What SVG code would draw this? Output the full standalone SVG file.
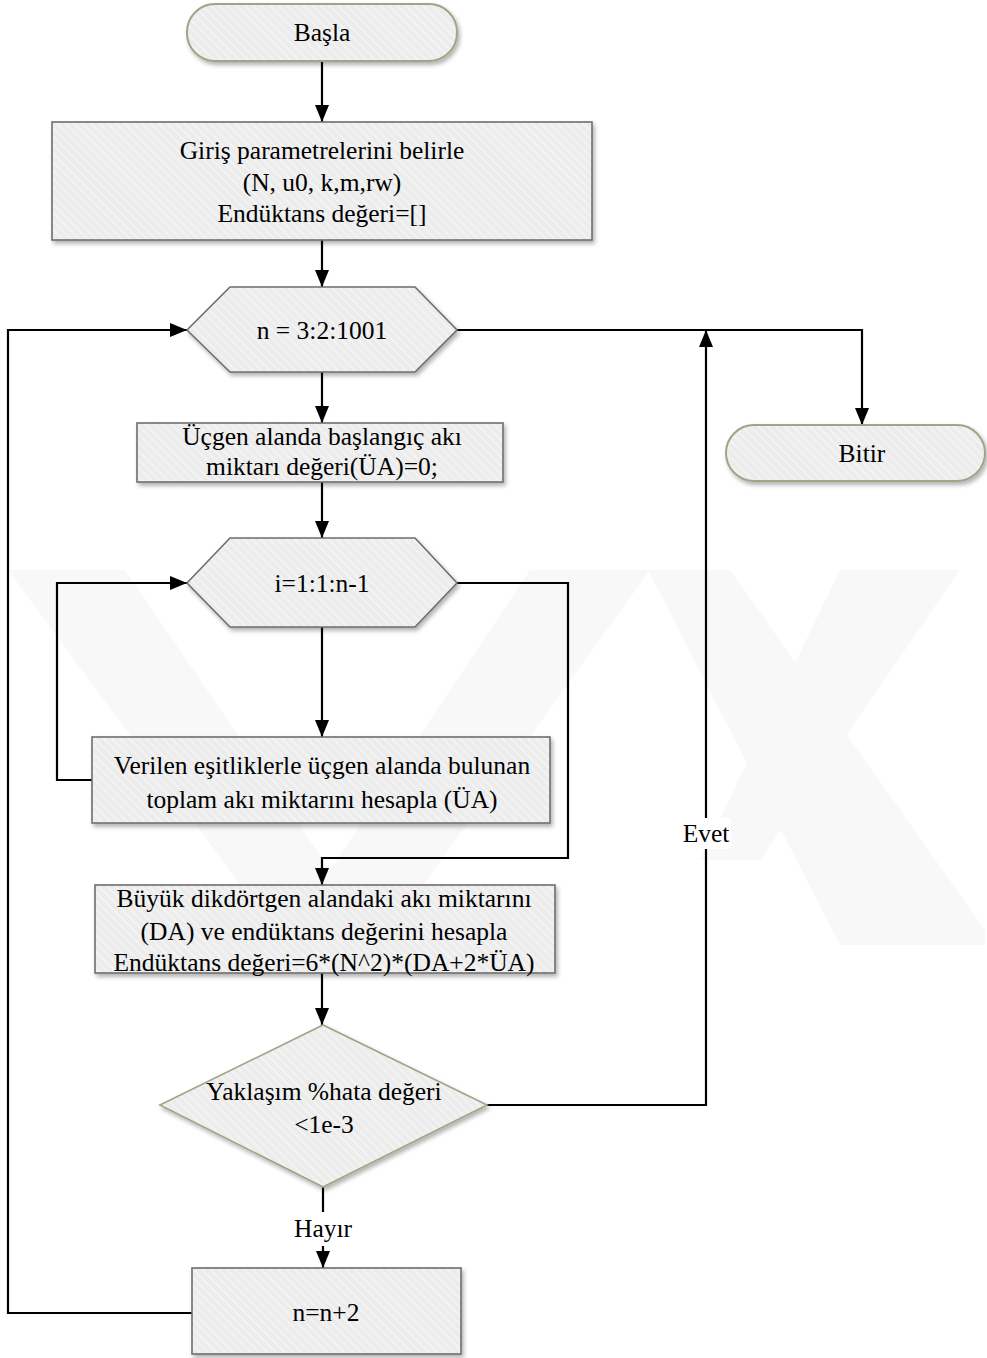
<svg xmlns="http://www.w3.org/2000/svg" width="987" height="1358" viewBox="0 0 987 1358">
<style>
.t{font-family:"Liberation Serif","Times New Roman",serif;font-size:25.5px;fill:#000;text-anchor:middle}
.box{fill:url(#hatch);stroke:#6e6e6e;stroke-width:1.6;filter:url(#sh)}
.term{fill:url(#hatch);stroke:#a2a486;stroke-width:2;filter:url(#sh)}
.dia{fill:url(#hatch);stroke:#a2a486;stroke-width:1.6;filter:url(#sh)}
.c{fill:none;stroke:#000;stroke-width:2.2}
.ca{fill:none;stroke:#000;stroke-width:2.2;marker-end:url(#ah)}
.wm{fill:#f8f8f8}
</style>
<defs>
<pattern id="hatch" patternUnits="userSpaceOnUse" width="6" height="6" patternTransform="rotate(-45)">
<rect width="6" height="6" fill="#ececec"/>
<rect width="2" height="6" fill="#f3f3f3"/>
</pattern>
<filter id="sh" x="-10%" y="-10%" width="125%" height="135%">
<feDropShadow dx="2" dy="3" stdDeviation="2" flood-color="#000" flood-opacity="0.3"/>
</filter>
<marker id="ah" markerWidth="17" markerHeight="14" refX="17" refY="7" orient="auto" markerUnits="userSpaceOnUse">
<path d="M0,0 L17,7 L0,14 Z" fill="#000"/>
</marker>
</defs>
<rect width="987" height="1358" fill="#fff"/>
<g id="watermark">
<polygon class="wm" points="8,570 125,570 330,870 530,570 650,570 380,945 285,945"/>
<polygon class="wm" points="648,570 730,570 985,930 985,945 840,945"/>
<polygon class="wm" points="840,570 960,570 760,860 700,860"/>
</g>
<g id="connectors">
<path class="ca" d="M322,61 V122"/>
<path class="ca" d="M322,240 V287"/>
<path class="ca" d="M322,372 V423"/>
<path class="ca" d="M322,482 V538"/>
<path class="ca" d="M322,627 V737"/>
<path class="ca" d="M92,780 H57 V583 H187"/>
<path class="ca" d="M457,583 H568 V858 H322 V885"/>
<path class="ca" d="M322,973 V1025"/>
<path class="ca" d="M457,330 H862 V425"/>
<path class="ca" d="M487,1105 H706 V330"/>
<path class="c" d="M323,1187 V1212"/>
<path class="ca" d="M323,1246 V1268"/>
<path class="ca" d="M192,1313 H8 V330 H187"/>
</g>
<g id="start">
<rect class="term" x="187" y="4" width="270" height="57" rx="28"/>
<text class="t" x="322" y="41">Başla</text>
</g>
<g id="inputs">
<rect class="box" x="52" y="122" width="540" height="118"/>
<text class="t" x="322" y="159">Giriş parametrelerini belirle</text>
<text class="t" x="322" y="191">(N, u0, k,m,rw)</text>
<text class="t" x="322" y="222">Endüktans değeri=[]</text>
</g>
<g id="loop-n">
<polygon class="box" points="187,330 230,287 415,287 457,330 415,372 230,372"/>
<text class="t" x="322" y="339">n = 3:2:1001</text>
</g>
<g id="end">
<rect class="term" x="726" y="425" width="259" height="56" rx="28"/>
<text class="t" x="862" y="462">Bitir</text>
</g>
<g id="init-ua">
<rect class="box" x="137" y="423" width="366" height="59"/>
<text class="t" x="322" y="445">Üçgen alanda başlangıç akı</text>
<text class="t" x="322" y="475">miktarı değeri(ÜA)=0;</text>
</g>
<g id="loop-i">
<polygon class="box" points="187,583 230,538 415,538 457,583 415,627 230,627"/>
<text class="t" x="322" y="592">i=1:1:n-1</text>
</g>
<g id="calc-ua">
<rect class="box" x="92" y="737" width="458" height="86"/>
<text class="t" x="322" y="774">Verilen eşitliklerle üçgen alanda bulunan</text>
<text class="t" x="322" y="808">toplam akı miktarını hesapla (ÜA)</text>
</g>
<g id="calc-l">
<rect class="box" x="95" y="885" width="460" height="88"/>
<text class="t" x="324" y="907">Büyük dikdörtgen alandaki akı miktarını</text>
<text class="t" x="324" y="940">(DA) ve endüktans değerini hesapla</text>
<text class="t" x="324" y="971">Endüktans değeri=6*(N^2)*(DA+2*ÜA)</text>
</g>
<g id="decision">
<polygon class="dia" points="160,1105 323,1025 487,1105 323,1187"/>
<text class="t" x="324" y="1100">Yaklaşım %hata değeri</text>
<text class="t" x="324" y="1133">&lt;1e-3</text>
</g>
<g id="labels">
<rect x="681" y="818" width="50" height="31" fill="#fff"/>
<text class="t" x="706" y="842">Evet</text>
<text class="t" x="323" y="1237">Hayır</text>
</g>
<g id="increment">
<rect class="box" x="192" y="1268" width="269" height="86"/>
<text class="t" x="326" y="1321">n=n+2</text>
</g>
</svg>
